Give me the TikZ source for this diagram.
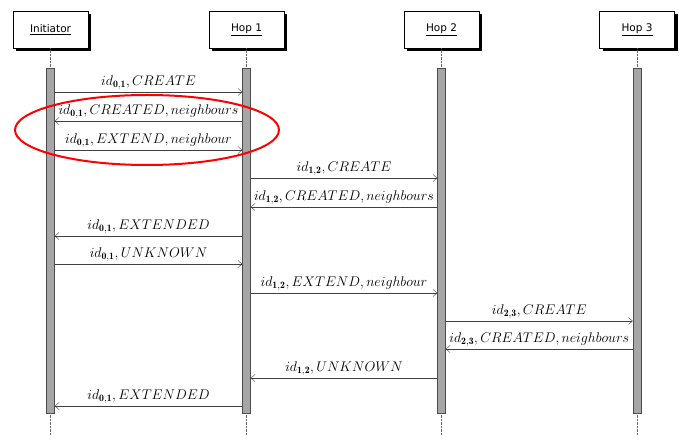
\RequirePackage{fix-cm}
\documentclass[tikz,border=0pt]{standalone}
\usepackage{amsmath}
\usepackage{fontspec}
\newfontfamily\boxfont{DejaVu Sans}
\usetikzlibrary{arrows.meta,shadows,positioning}
\tikzset{
  >={Straight Barb[length=4pt,width=7pt]},
  actor/.style={rectangle, draw=black, fill=white, minimum width=75pt, minimum height=37pt,
                font=\boxfont\fontsize{10.5}{12}\selectfont,
                drop shadow={shadow xshift=3pt, shadow yshift=-3pt, fill=black, opacity=1}},
  bar/.style={rectangle, draw=black!70, fill=black!35, minimum width=8pt, inner sep=0pt},
  life/.style={draw=black!60, densely dotted},
  msg/.style={draw=black!75, ->},
  lbl/.style={midway, above=1pt, inner sep=1pt, font=\fontsize{14}{16}\selectfont}
}
\begin{document}
\begin{tikzpicture}[x=1pt,y=-1pt]
    \useasboundingbox (0,0) rectangle (690,446);
    % Draw actors
    \node[actor] (init) at (50.5,29.5) {\underline{Initiator}};
    \node[actor] (hop1) at (246.5,29.5) {\underline{Hop 1}};
    \node[actor] (hop2) at (441.5,29.5) {\underline{Hop 2}};
    \node[actor] (hop3) at (637,29.5) {\underline{Hop 3}};
    % Activation bars
    \node[bar, minimum height=345pt] (b0) at (50.5,240.5) {};
    \node[bar, minimum height=345pt] (b1) at (246.5,240.5) {};
    \node[bar, minimum height=345pt] (b2) at (441.5,240.5) {};
    \node[bar, minimum height=345pt] (b3) at (637,240.5) {};
    \foreach \n/\b in {init/b0,hop1/b1,hop2/b2,hop3/b3}{
      \draw[life] (\n.south) -- (\b.north);
      \draw[life] (\b.south) -- ++(0,22);
    }
    % Messages
    \draw[msg] (b0.east |- 0,92) -- node[lbl] {$id_{\mathbf{0,1}}, CREATE$} (b1.west |- 0,92);
    \draw[msg] (b1.west |- 0,121) -- node[lbl] {$id_{\mathbf{0,1}}, CREATED, neighbours$} (b0.east |- 0,121);
    \draw[msg] (b0.east |- 0,150) -- node[lbl] {$id_{\mathbf{0,1}}, EXTEND, neighbour$} (b1.west |- 0,150);
    \draw[msg] (b1.east |- 0,178) -- node[lbl] {$id_{\mathbf{1,2}}, CREATE$} (b2.west |- 0,178);
    \draw[msg] (b2.west |- 0,207) -- node[lbl] {$id_{\mathbf{1,2}}, CREATED, neighbours$} (b1.east |- 0,207);
    \draw[msg] (b1.west |- 0,236) -- node[lbl] {$id_{\mathbf{0,1}}, EXTENDED$} (b0.east |- 0,236);
    \draw[msg] (b0.east |- 0,264) -- node[lbl] {$id_{\mathbf{0,1}}, UNKNOWN$} (b1.west |- 0,264);
    \draw[msg] (b1.east |- 0,293) -- node[lbl] {$id_{\mathbf{1,2}}, EXTEND, neighbour$} (b2.west |- 0,293);
    \draw[msg] (b2.east |- 0,321) -- node[lbl] {$id_{\mathbf{2,3}}, CREATE$} (b3.west |- 0,321);
    \draw[msg] (b3.west |- 0,349) -- node[lbl] {$id_{\mathbf{2,3}}, CREATED, neighbours$} (b2.east |- 0,349);
    \draw[msg] (b2.west |- 0,378) -- node[lbl] {$id_{\mathbf{1,2}}, UNKNOWN$} (b1.east |- 0,378);
    \draw[msg] (b1.west |- 0,406) -- node[lbl] {$id_{\mathbf{0,1}}, EXTENDED$} (b0.east |- 0,406);
    % Highlight
    \draw[red, line width=2pt] (147,130) ellipse [x radius=132, y radius=35];
\end{tikzpicture}
\end{document}
